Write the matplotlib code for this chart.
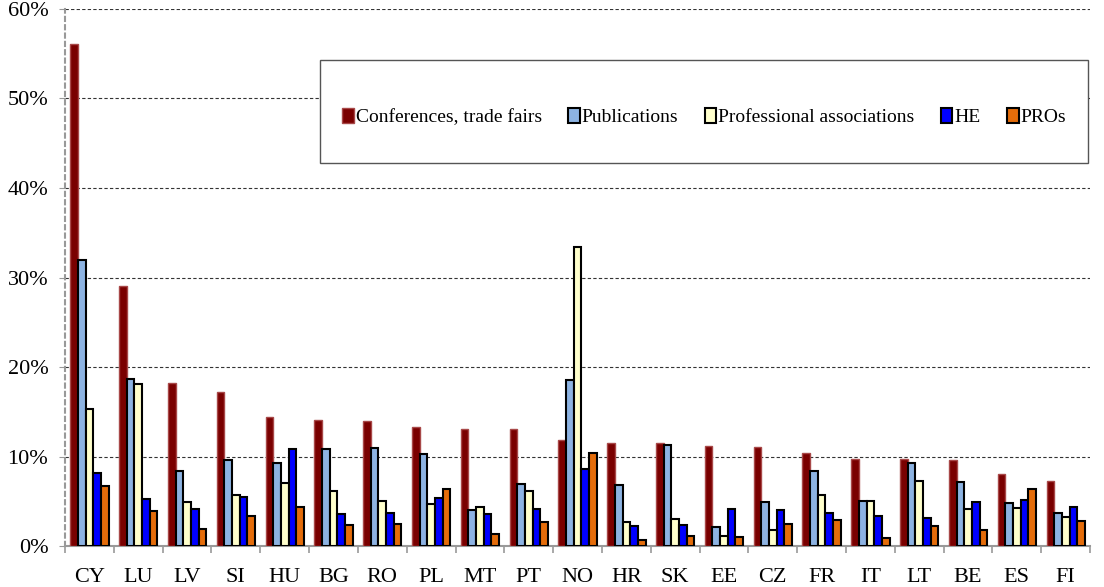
import matplotlib
matplotlib.use("Agg")
import matplotlib.pyplot as plt
import numpy as np
from matplotlib.patches import Rectangle, Patch

plt.rcParams['font.family'] = ['Liberation Serif', 'DejaVu Serif']

countries = ["CY", "LU", "LV", "SI", "HU", "BG", "RO", "PL", "MT", "PT", "NO",
             "HR", "SK", "EE", "CZ", "FR", "IT", "LT", "BE", "ES", "FI"]

conferences = [56.1, 29.1, 18.2, 17.2, 14.4, 14.1, 14.0, 13.3, 13.1, 13.1, 11.9,
               11.5, 11.5, 11.2, 11.1, 10.4, 9.7, 9.7, 9.6, 8.1, 7.3]
publications = [32.0, 18.7, 8.4, 9.6, 9.3, 10.8, 10.9, 10.3, 4.0, 6.9, 18.6,
                6.8, 11.3, 2.1, 4.9, 8.4, 5.0, 9.3, 7.1, 4.8, 3.7]
prof_assoc = [15.3, 18.1, 4.9, 5.7, 7.0, 6.2, 5.0, 4.7, 4.4, 6.2, 33.4,
              2.7, 3.0, 1.1, 1.8, 5.7, 5.0, 7.3, 4.1, 4.3, 3.2]
he = [8.2, 5.3, 4.1, 5.5, 10.8, 3.6, 3.7, 5.4, 3.6, 4.1, 8.6,
      2.2, 2.3, 4.1, 4.0, 3.7, 3.4, 3.1, 4.9, 5.1, 4.4]
pros = [6.7, 3.9, 1.9, 3.4, 4.4, 2.3, 2.5, 6.4, 1.3, 2.7, 10.4,
        0.7, 1.1, 1.0, 2.5, 2.9, 0.9, 2.2, 1.8, 6.4, 2.8]

series_names = ["Conferences, trade fairs", "Publications",
                "Professional associations", "HE", "PROs"]
series_values = [conferences, publications, prof_assoc, he, pros]
colors = ["#7a0000", "#8db3e2", "#ffffcc", "#0000ff", "#e46c0a"]
edges = ["#a84848", "black", "black", "black", "black"]
edge_w = [1.0, 1.5, 1.5, 1.5, 1.5]

fig = plt.figure(figsize=(11.04, 5.87), dpi=100)
ax = fig.add_axes([0.0589, 0.0698, 0.9285, 0.9149])

n = len(countries)
x = np.arange(n)
group_w = 0.785
bw = group_w / 5
for i, (vals, name) in enumerate(zip(series_values, series_names)):
    offs = -group_w / 2 + bw * (i + 0.5)
    ax.bar(x + offs, vals, width=bw, color=colors[i], edgecolor=edges[i],
           linewidth=edge_w[i], zorder=3, label=name)

ax.set_xlim(-0.5, n - 0.5)
ax.set_ylim(0, 60)
ax.set_yticks(np.arange(0, 61, 10))
ax.set_yticklabels([f"{v}%" for v in range(0, 61, 10)], fontsize=16)
ax.yaxis.grid(True, linestyle=(0, (3, 2)), color="#333333", linewidth=0.8, zorder=0)

ax.set_xticks(x)
ax.set_xticklabels(countries, fontsize=16)
ax.tick_params(axis='x', length=0, pad=16)
ax.set_xticks(np.arange(-0.5, n, 1), minor=True)
ax.tick_params(axis='x', which='minor', length=5, color="#999999", width=1.2)
ax.tick_params(axis='y', length=4, color="#999999", pad=8)

for s in ["top", "right"]:
    ax.spines[s].set_visible(False)
ax.spines["left"].set_linestyle((0, (2, 2)))
ax.spines["left"].set_color("#999999")
ax.spines["left"].set_linewidth(1.5)
ax.spines["bottom"].set_color("#999999")
ax.spines["bottom"].set_linewidth(1.5)

# legend frame
ax.add_patch(Rectangle((0.249, 0.713), 0.749, 0.192, transform=ax.transAxes,
                       facecolor="white", edgecolor="#555555", linewidth=1.0, zorder=4))
handles = [Patch(facecolor=colors[i], edgecolor=edges[i], linewidth=edge_w[i])
           for i in range(5)]
leg = ax.legend(handles, series_names, loc="center",
                bbox_to_anchor=(0.249, 0.703, 0.749, 0.192), ncol=5, frameon=False,
                fontsize=14, handlelength=0.6, handleheight=0.8, handletextpad=0.1,
                columnspacing=1.35)
leg.set_zorder(5)

fig.savefig("out.png", dpi=100)
